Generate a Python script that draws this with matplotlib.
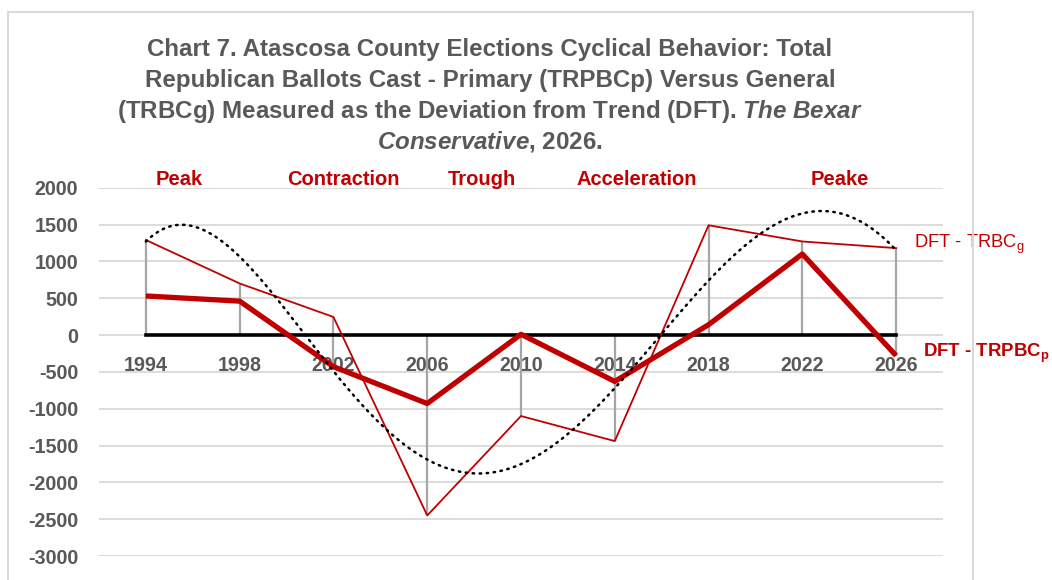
import numpy as np
import matplotlib.pyplot as plt
from matplotlib.patches import Rectangle

plt.rcParams['font.family'] = ['Liberation Sans', 'DejaVu Sans']
plt.rcParams['axes.unicode_minus'] = False
plt.rcParams['mathtext.fontset'] = 'custom'
plt.rcParams['mathtext.rm'] = 'Liberation Sans'
plt.rcParams['mathtext.it'] = 'Liberation Sans:italic'
plt.rcParams['mathtext.bf'] = 'Liberation Sans:bold'
plt.rcParams['mathtext.bfit'] = 'Liberation Sans:italic:bold'

# data
years = ['1994', '1998', '2002', '2006', '2010', '2014', '2018', '2022', '2026']
trbc_g = [1290, 700, 245, -2450, -1100, -1440, 1490, 1270, 1180]   # DFT - TRBCg (thin)
trpbc_p = [530, 460, -430, -930, 10, -630, 140, 1100, -280]        # DFT - TRPBCp (thick)
zero_line = [0, 0, 0, 0, 0, 0, 0, 0, 0]
# dotted cycle curve, read every half category (0 = 1994)
cycle_pos = [0, 0.5, 1, 1.5, 2, 2.5, 3, 3.5, 4, 4.5, 5, 5.5, 6, 6.5, 7, 7.5, 8]
cycle_val = [1260, 1518, 1010, 310, -408, -1245, -1698, -1880, -1730,
             -1390, -702, 40, 745, 1314, 1609, 1660, 1140]
phase_names = ['Peak', 'Contraction', 'Trough', 'Acceleration', 'Peake']
phase_pos = [0.36, 2.11, 3.58, 5.23, 7.4]

red = '#C00000'
grey_txt = '#595959'

x = np.arange(len(years))

fig = plt.figure(figsize=(10.52, 5.8), dpi=100)
ax = fig.add_axes([99/1052, 1-556/580, (943-99)/1052, (556-187.7)/580])

# chart border (excel chart area)
fig.patches.append(Rectangle((8/1052, -0.05), (973-8)/1052, 1.05-12/580, transform=fig.transFigure,
                             fill=False, edgecolor='#d9d9d9', linewidth=1.5))

# high-low lines between the three series
lo = np.minimum(np.minimum(trbc_g, trpbc_p), zero_line)
hi = np.maximum(np.maximum(trbc_g, trpbc_p), zero_line)
ax.vlines(x, lo, hi, color='#a6a6a6', linewidth=1.6, zorder=2)

ax.plot(x, zero_line, color='black', linewidth=2.6, zorder=3)
ax.plot(x, trbc_g, color=red, linewidth=1.3, zorder=4)
ax.plot(x, trpbc_p, color=red, linewidth=3.8, zorder=5, solid_capstyle='butt')

# smooth the read cycle curve (it is a polynomial trendline in the original)
coef = np.polyfit(cycle_pos, cycle_val, 6)
xs = np.linspace(0, 8, 300)
ax.plot(xs, np.polyval(coef, xs), color='black', linewidth=1.8,
        linestyle=(0, (0.6, 2.2)), dash_capstyle='round', zorder=6)

# phase labels above the plot
for name, px in zip(phase_names, phase_pos):
    ax.text(px, 2117, name, color=red, fontsize=14.5, fontweight='bold',
            ha='center', va='center', clip_on=False)

ax.text(8.19, 1235, 'DFT - TRBC$_\\mathregular{g}$', color=red, fontsize=13.2,
        ha='left', va='center', clip_on=False)
ax.text(8.29, -245, 'DFT - TRPBC$_\\mathregular{p}$', color=red, fontsize=13.4,
        fontweight='bold', ha='left', va='center', clip_on=False)

ax.set_xlim(-0.5, 8.5)
ax.set_ylim(-3000, 2000)
ax.set_yticks(np.arange(-3000, 2001, 500))
ax.set_xticks(x)
ax.set_xticklabels(years)
ax.spines['bottom'].set_position(('data', 0))
for s in ax.spines.values():
    s.set_visible(False)
ax.grid(axis='y', color='#d9d9d9', linewidth=1.3)
ax.set_axisbelow(True)
ax.tick_params(axis='x', length=0, pad=15, labelsize=14.2, labelcolor=grey_txt)
ax.tick_params(axis='y', length=0, pad=15, labelsize=14.2, labelcolor=grey_txt)
for lab in ax.get_xticklabels() + ax.get_yticklabels():
    lab.set_fontweight('bold')

# title, one line at a time
title_lines = ['Chart 7. Atascosa County Elections Cyclical Behavior: Total',
               'Republican Ballots Cast - Primary (TRPBCp) Versus General',
               '(TRBCg) Measured as the Deviation from Trend (DFT). $\\mathbfit{The\\ Bexar}$',
               '$\\mathbfit{Conservative}$, 2026.']
for i, line in enumerate(title_lines):
    fig.text(490/1052, 1-(55.7 + 31*i)/580, line, ha='center', va='baseline',
             fontsize=17.4, fontweight='bold', color=grey_txt)

fig.savefig('out.png', dpi=100)
